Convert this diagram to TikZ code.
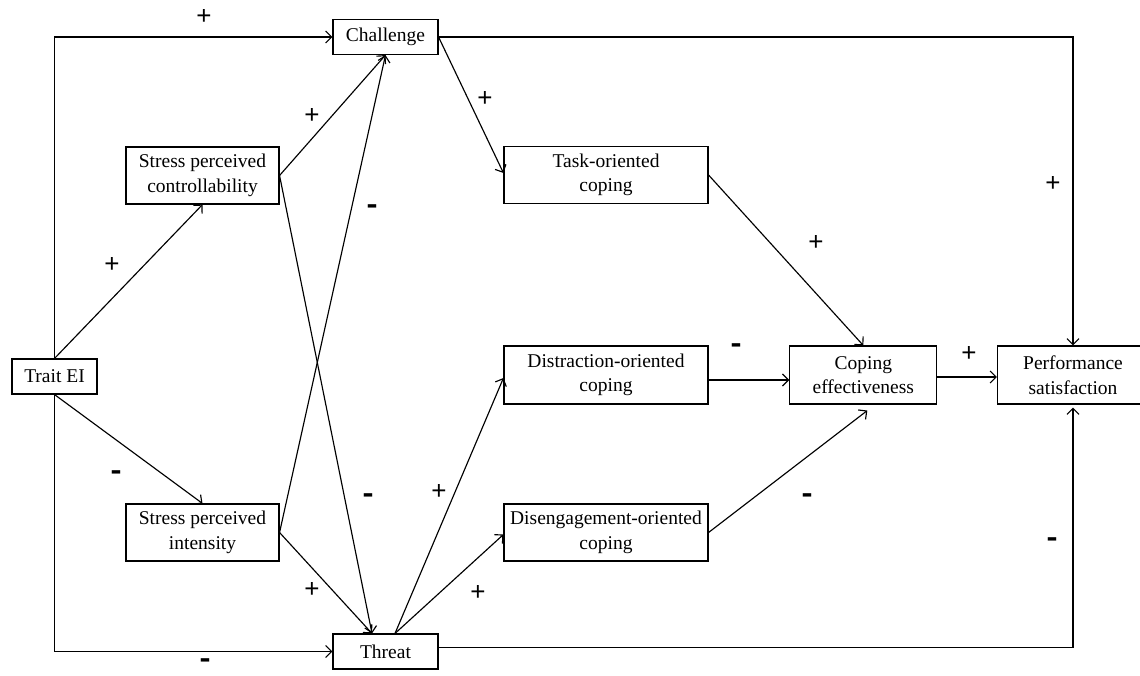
\documentclass[tikz,border=0pt]{standalone}
\usepackage{fontspec}
\setmainfont{Liberation Serif}
\newfontfamily\labfont{Liberation Sans}
\usetikzlibrary{arrows.meta}
\newcommand{\mysign}{\scalebox{0.85}[1.7]{\bfseries –}}
\tikzset{
  box/.style={draw, line width=1.1pt, inner sep=0pt, align=center,
    font=\fontsize{19.5}{24.5}\selectfont},
  arr/.style={line width=1.15pt, -{Straight Barb[length=6pt,width=12pt,line width=1.15pt]}},
  plus/.style={inner sep=0pt, font=\labfont\fontsize{26}{26}\selectfont},
  minus/.style={inner sep=0pt, font=\labfont\fontsize{20}{20}\selectfont}
}
\begin{document}
\begin{tikzpicture}[x=1pt,y=-1pt]
\clip (0,0) rectangle (1140,676);
\fill[white] (0,0) rectangle (1140,676);
% nodes
\node[box, minimum width=105pt, minimum height=35pt] (challenge) at (385.5,37) {Challenge};
\node[box, minimum width=153pt, minimum height=57pt] (spc) at (202.5,175.5) {Stress perceived\\controllability};
\node[box, minimum width=85pt, minimum height=35pt] (trait) at (54.5,376.5) {Trait EI};
\node[box, minimum width=153pt, minimum height=57pt] (spi) at (202.5,532.5) {Stress perceived\\intensity};
\node[box, minimum width=105pt, minimum height=35pt] (threat) at (385.5,651.5) {Threat};
\node[box, minimum width=204pt, minimum height=57pt] (task) at (606,175) {Task-oriented\\coping};
\node[box, minimum width=204pt, minimum height=58pt] (distr) at (606,375) {Distraction-oriented\\coping};
\node[box, minimum width=204pt, minimum height=57pt] (diseng) at (606,532.5) {Disengagement-oriented\\coping};
\node[box, minimum width=147pt, minimum height=58pt] (coping) at (863.3,375) {Coping\\effectiveness};
\node[box, minimum width=151pt, minimum height=58pt] (perf) at (1073,375) {Performance\\satisfaction};
% connectors
\draw[arr] (trait.north) |- (challenge.west);
\draw[arr] (trait.south) |- (threat.west);
\draw[arr] (trait.north) -- (spc.south);
\draw[arr] (trait.south) -- (spi.north);
\draw[arr] (spc.east) -- (challenge.south);
\draw[arr] (spc.east) -- ([xshift=-13.5pt]threat.north);
\draw[arr] (spi.east) -- (challenge.south);
\draw[arr] (spi.east) -- ([xshift=-13.5pt]threat.north);
\draw[arr] ([xshift=9.5pt]threat.north) -- ([yshift=-3pt]distr.west);
\draw[arr] ([xshift=9.5pt]threat.north) -- ([yshift=-2pt]diseng.west);
\draw[arr] (challenge.east) -- ([yshift=2pt]task.west);
\draw[arr] (challenge.east) -| (perf.north);
\draw[arr] (task.east) -- (coping.north);
\draw[arr] ([yshift=-5pt]distr.east) -- ([yshift=-5pt]coping.west);
\draw[arr] (diseng.east) -- ([xshift=4pt,yshift=-6pt]coping.south);
\draw[arr] ([yshift=-2pt]coping.east) -- ([yshift=-2pt]perf.west);
\draw[arr] ([yshift=4pt]threat.east) -| ([yshift=-3pt]perf.south);
% labels
\node[plus] (p1) at (204,17) {+};
\node[plus] (p2) at (312,116) {+};
\node[plus] (p3) at (112,265) {+};
\node[minus] (m1) at (372,210) {\mysign};
\node[minus] (m2) at (116,476) {\mysign};
\node[minus] (m3) at (368,499) {\mysign};
\node[plus] (p4) at (312,590) {+};
\node[minus] (m4) at (205,664) {\mysign};
\node[plus] (p5) at (485,99) {+};
\node[plus] (p6) at (439,492) {+};
\node[plus] (p7) at (478,593) {+};
\node[plus] (p8) at (816,243) {+};
\node[minus] (m5) at (736,349) {\mysign};
\node[plus] (p9) at (969,354) {+};
\node[minus] (m6) at (807,499) {\mysign};
\node[plus] (p10) at (1053,184) {+};
\node[minus] (m7) at (1052,543) {\mysign};
\end{tikzpicture}
\end{document}
